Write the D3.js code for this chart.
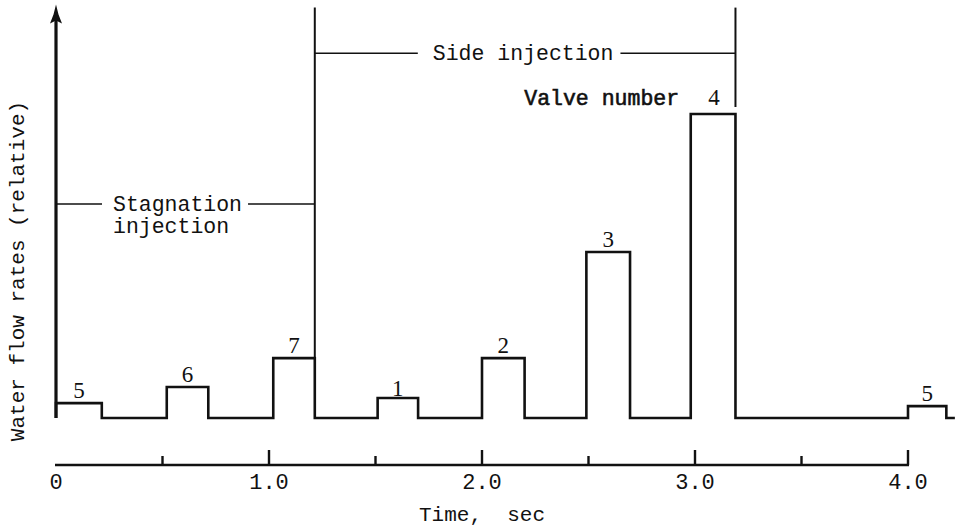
<!DOCTYPE html>
<html>
<head>
<meta charset="utf-8">
<script src="https://cdn.jsdelivr.net/npm/d3@7"></script>
<style>
  html, body { margin: 0; padding: 0; background: #fff; }
  svg { display: block; }
  text { fill: #111; }
</style>
</head>
<body>
<svg id="chart" width="959" height="530"></svg>
<script>
// ---- data ----
const valves     = ["5", "6", "7", "1", "2", "3", "4", "5"];
const pulseStart = [0, 0.52, 1.02, 1.51, 2.0, 2.49, 2.98, 4.0];
const pulseEnd   = [0.215, 0.715, 1.215, 1.70, 2.20, 2.695, 3.19, 4.18];
const pulseValue = [4.9, 10.2, 19.7, 6.6, 19.7, 54.6, 100, 3.9];
const majorTicks = [0, 1, 2, 3, 4];
const majorTickLabels = ["0", "1.0", "2.0", "3.0", "4.0"];
const minorTicks = [0.5, 1.5, 2.5, 3.5];
const timeEnd = 4.22;           // trace continues to right edge
const bracketTop = 135;         // top of annotation verticals (relative units)
const stagLevel = 70.4;         // level of "Stagnation injection" bracket
const sideLevel = 120;          // level of "Side injection" bracket
const yMax = 136;

// ---- layout ----
const svg = d3.select("#chart");
const x = d3.scaleLinear().domain([0, 4]).range([56, 908]);
const y = d3.scaleLinear().domain([0, 100]).range([418, 114]);
const axisY = 465;
const mono = "'Liberation Mono', 'DejaVu Sans Mono', monospace";
const serif = "'Liberation Serif', 'DejaVu Serif', serif";

// ---- step trace ----
const pts = [];
pts.push([0, 0]);
valves.forEach((v, i) => {
  pts.push([pulseStart[i], 0]);
  pts.push([pulseStart[i], pulseValue[i]]);
  pts.push([pulseEnd[i], pulseValue[i]]);
  pts.push([pulseEnd[i], 0]);
});
pts.push([timeEnd, 0]);
const line = d3.line().x(d => x(d[0])).y(d => y(d[1]));
svg.append("path")
  .attr("d", line(pts))
  .attr("fill", "none")
  .attr("stroke", "#111")
  .attr("stroke-width", 2.6)
  .attr("stroke-linejoin", "miter");

// ---- pulse labels ----
svg.selectAll("text.vlabel")
  .data(valves)
  .enter().append("text")
  .attr("class", "vlabel")
  .attr("x", (d, i) => x((pulseStart[i] + pulseEnd[i]) / 2) + (i === 6 ? 1 : 0))
  .attr("y", (d, i) => y(pulseValue[i]) - (i === 6 ? 9 : (i === 3 ? 2 : 5)))
  .attr("text-anchor", "middle")
  .attr("font-family", serif)
  .attr("font-size", 23)
  .text(d => d);

// "Valve number" caption next to the tallest pulse's label
svg.append("text")
  .attr("x", x((pulseStart[6] + pulseEnd[6]) / 2) - 34)
  .attr("y", y(pulseValue[6]) - 9)
  .attr("text-anchor", "end")
  .attr("font-family", mono)
  .attr("font-size", 21.5)
  .attr("stroke", "#111")
  .attr("stroke-width", 0.6)
  .text("Valve number");

// ---- Y axis (arrow) ----
svg.append("line")
  .attr("x1", x(0)).attr("x2", x(0))
  .attr("y1", y(0)).attr("y2", y(yMax) + 14)
  .attr("stroke", "#111").attr("stroke-width", 3.2);
const ax = x(0), ayTip = y(yMax);
svg.append("path")
  .attr("d", `M${ax},${ayTip} L${ax + 2.5},${ayTip + 10} L${ax + 6},${ayTip + 19} L${ax},${ayTip + 16} L${ax - 6},${ayTip + 19} L${ax - 2.5},${ayTip + 10} Z`)
  .attr("fill", "#111");

svg.append("text")
  .attr("transform", `translate(24, ${271}) rotate(-90)`)
  .attr("text-anchor", "middle")
  .attr("font-family", mono)
  .attr("font-size", 21)
  .text("Water flow rates (relative)");

// ---- X axis ----
svg.append("line")
  .attr("x1", x(0) - 1).attr("x2", x(4) + 1)
  .attr("y1", axisY).attr("y2", axisY)
  .attr("stroke", "#111").attr("stroke-width", 2.6);
svg.selectAll("line.major")
  .data(majorTicks.filter(d => d > 0))
  .enter().append("line")
  .attr("class", "major")
  .attr("x1", d => x(d)).attr("x2", d => x(d))
  .attr("y1", axisY).attr("y2", axisY - 15)
  .attr("stroke", "#111").attr("stroke-width", 2.4);
svg.selectAll("line.minor")
  .data(minorTicks)
  .enter().append("line")
  .attr("class", "minor")
  .attr("x1", d => x(d)).attr("x2", d => x(d))
  .attr("y1", axisY).attr("y2", axisY - 9)
  .attr("stroke", "#111").attr("stroke-width", 2.4);
svg.selectAll("text.tick")
  .data(majorTicks)
  .enter().append("text")
  .attr("class", "tick")
  .attr("x", d => x(d))
  .attr("y", axisY + 24)
  .attr("text-anchor", "middle")
  .attr("font-family", mono)
  .attr("font-size", 22)
  .text((d, i) => majorTickLabels[i]);

svg.append("text")
  .attr("x", x(2))
  .attr("y", 521)
  .attr("text-anchor", "middle")
  .attr("font-family", mono)
  .attr("font-size", 21)
  .attr("style", "white-space: pre")
  .text("Time,  sec");

// ---- annotation brackets ----
const stagEnd = pulseEnd[2];
const sideEnd = pulseEnd[6];
// verticals
svg.append("line")
  .attr("x1", x(stagEnd)).attr("x2", x(stagEnd))
  .attr("y1", y(bracketTop)).attr("y2", y(pulseValue[2]))
  .attr("stroke", "#111").attr("stroke-width", 2);
svg.append("line")
  .attr("x1", x(sideEnd)).attr("x2", x(sideEnd))
  .attr("y1", y(bracketTop)).attr("y2", y(pulseValue[6]) - 7)
  .attr("stroke", "#111").attr("stroke-width", 2);

function bracket(x0, x1, level, lines, startX, padL, padR) {
  const g = svg.append("g");
  const texts = lines.map((s, k) => g.append("text")
    .attr("x", startX)
    .attr("y", y(level) + 7 + k * 22)
    .attr("font-family", mono)
    .attr("font-size", 21.5)
    .text(s));
  const w = texts[0].node().getComputedTextLength();
  g.append("line").attr("x1", x0).attr("x2", startX - padL)
    .attr("y1", y(level)).attr("y2", y(level))
    .attr("stroke", "#111").attr("stroke-width", 1.6);
  g.append("line").attr("x1", startX + w + padR).attr("x2", x1)
    .attr("y1", y(level)).attr("y2", y(level))
    .attr("stroke", "#111").attr("stroke-width", 1.6);
}
// Stagnation injection bracket
bracket(x(0), x(stagEnd), stagLevel, ["Stagnation", "injection"], x(0) + 57, 11, 6);
// Side injection bracket (centred)
(function () {
  const tmp = svg.append("text").attr("font-family", mono).attr("font-size", 21.5).text("Side injection");
  const w = tmp.node().getComputedTextLength();
  tmp.remove();
  const c = (x(stagEnd) + x(sideEnd)) / 2;
  bracket(x(stagEnd), x(sideEnd), sideLevel, ["Side injection"], c - w / 2 - 2, 15, 7);
})();
</script>
</body>
</html>
